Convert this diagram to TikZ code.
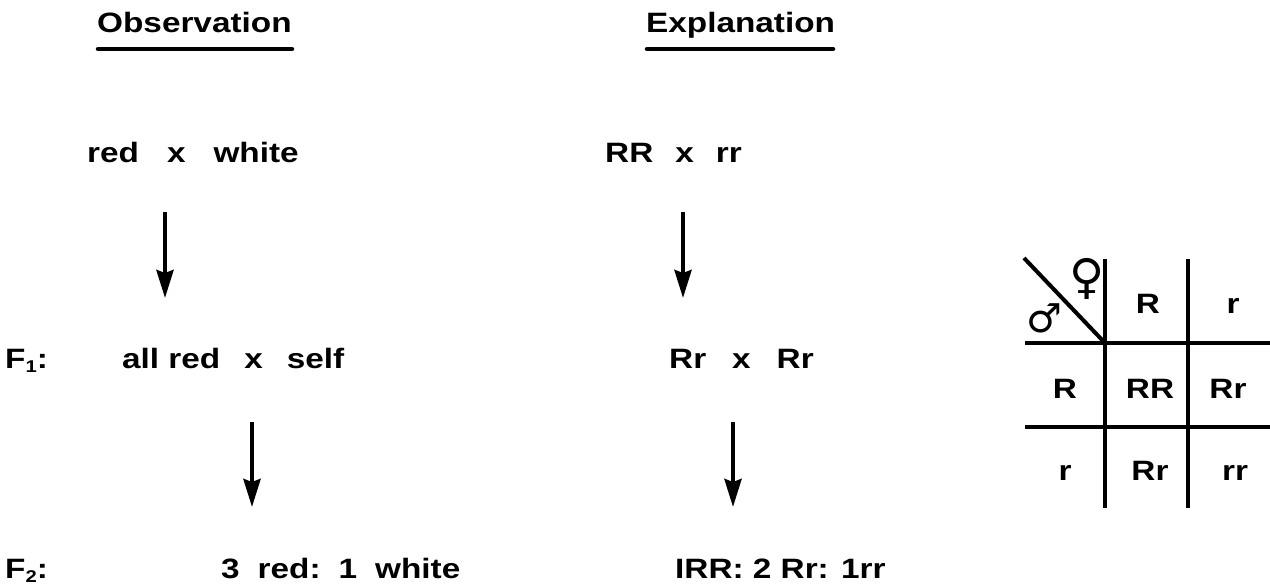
\documentclass[tikz,border=0pt]{standalone}
\usepackage{fontspec}
\setmainfont{Liberation Sans}[BoldFeatures={FakeStretch=1.19}]
\newfontfamily\symfont{DejaVu Sans}
\newcommand{\lowsub}[1]{\raisebox{-4pt}{\fontsize{17}{17}\selectfont #1}}
\usetikzlibrary{arrows.meta,calc}
\begin{document}
\begin{tikzpicture}[x=1pt,y=-1pt,
  txt/.style={inner sep=0pt,font=\fontsize{28}{32}\selectfont\bfseries},
  lbl/.style={txt,anchor=base west},
  cell/.style={txt,anchor=base},
  flow/.style={line width=4pt,-{Stealth[length=28pt,width=17pt,inset=3pt]}},
  uline/.style={line width=4.5pt,line cap=round},
  grid/.style={line width=4pt}]
\useasboundingbox (0,0) rectangle (1270,586);
% headers
\node[lbl] (obs) at (97,33) {Observation};
\node[lbl] (exp) at (646,33) {Explanation};
\coordinate (obsL) at (98,49); \coordinate (obsR) at (292,49);
\coordinate (expL) at (647,49); \coordinate (expR) at (833,49);
\draw[uline] (obsL) -- (obsR);
\draw[uline] (expL) -- (expR);
% observation column
\node[lbl] (p1) at (87,162) {red\hspace{28pt}x\hspace{28pt}white};
\node[lbl] (f1) at (5,368) {F\lowsub{1}:};
\node[lbl] (p2) at (122,368) {all red\hspace{24pt}x\hspace{24pt}self};
\node[lbl] (f2) at (5,578) {F\lowsub{2}:};
\node[lbl] (p3) at (221,578) {3\hspace{18pt}red:\hspace{18pt}1\hspace{18pt}white};
% explanation column
\node[lbl] (e1) at (605,162) {RR\hspace{22pt}x\hspace{22pt}rr};
\node[lbl] (e2) at (669,368) {Rr\hspace{26pt}x\hspace{26pt}Rr};
\node[lbl] (e3) at (675,578) {IRR: 2 Rr: 1rr};
% arrows
\coordinate (a1s) at (165,212); \coordinate (a1e) at (165,298);
\coordinate (a2s) at (252,422); \coordinate (a2e) at (252,507);
\coordinate (b1s) at (683,212); \coordinate (b1e) at (683,298);
\coordinate (b2s) at (733,422); \coordinate (b2e) at (733,507);
\draw[flow] (a1s) -- (a1e);
\draw[flow] (a2s) -- (a2e);
\draw[flow] (b1s) -- (b1e);
\draw[flow] (b2s) -- (b2e);
% Punnett square
\coordinate (v1t) at (1105,259); \coordinate (v1b) at (1105,508);
\coordinate (v2t) at (1188,259); \coordinate (v2b) at (1188,508);
\coordinate (h1l) at (1025,343); \coordinate (h1r) at (1270,343);
\coordinate (h2l) at (1025,427); \coordinate (h2r) at (1270,427);
\coordinate (dg) at (1024,258);
\draw[grid] (v1t) -- (v1b);
\draw[grid] (v2t) -- (v2b);
\draw[grid] (h1l) -- (h1r);
\draw[grid] (h2l) -- (h2r);
\draw[grid] (dg) -- (v1t |- h1l);
% sex symbols
\node[inner sep=0pt,font=\symfont\fontsize{48}{48}\selectfont] (fem) at (1087,279) {♀};
\node[inner sep=0pt,font=\symfont\fontsize{40}{40}\selectfont] (mal) at (1044,318) {♂};
% cells
\node[cell] (c12) at (1148,313) {R};
\node[cell] (c13) at (1233,313) {r};
\node[cell] (c21) at (1065,398) {R};
\node[cell] (c22) at (1150,398) {RR};
\node[cell] (c23) at (1228,398) {Rr};
\node[cell] (c31) at (1065,480) {r};
\node[cell] (c32) at (1150,480) {Rr};
\node[cell] (c33) at (1235,480) {rr};
\end{tikzpicture}
\end{document}
